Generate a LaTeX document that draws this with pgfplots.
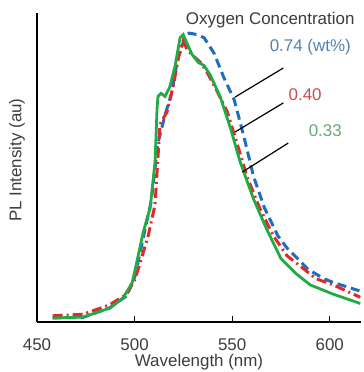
\documentclass[border=0pt]{standalone}
\usepackage{fontspec}
\setmainfont{Liberation Sans}
\usepackage{pgfplots}
\pgfplotsset{compat=1.18}
\definecolor{cgreen}{RGB}{34,170,70}
\definecolor{cred}{RGB}{228,40,40}
\definecolor{cblue}{RGB}{30,110,190}
\definecolor{tblue}{RGB}{80,130,175}
\definecolor{tred}{RGB}{205,75,75}
\definecolor{tgreen}{RGB}{100,170,120}
\definecolor{tgray}{RGB}{60,60,60}
\begin{document}
\begin{tikzpicture}
\begin{axis}[
  scale only axis, width=324bp, height=309bp,
  xmin=450, xmax=616, ymin=0, ymax=1,
  axis x line=bottom, axis y line=left,
  axis line style={-, line width=2bp, black},
  xtick={450,500,550,600}, ytick=\empty,
  tick align=inside, major tick length=6bp,
  tick style={line width=1pt, black},
  /pgf/number format/assume math mode=true,
  /pgf/number format/1000 sep={},
  ticklabel style={font=\fontsize{17}{17}\selectfont, text=tgray},
  xticklabel style={anchor=center, yshift=-23bp},
  xlabel={Wavelength (nm)}, ylabel={PL Intensity (au)},
  label style={font=\fontsize{17}{17}\selectfont, text=tgray},
  xlabel style={at={(axis description cs:0.5,0)}, anchor=center, yshift=-40bp},
  ylabel style={at={(axis description cs:0,0.524)}, anchor=center, yshift=20bp},
  clip=false,
]
\coordinate (bl) at (rel axis cs:0,0);
% blue 0.74
\addplot[cblue, line width=3bp, dash pattern=on 9bp off 5bp] coordinates {
(458,0.013)(473.6,0.015)(487,0.045)(496,0.085)(500.3,0.15)(505,0.29)(508.5,0.39)(512,0.58)(515.6,0.67)(519,0.74)(522,0.85)(526,0.925)(528,0.935)(532,0.93)(535.6,0.92)(540.7,0.87)(545.8,0.79)(551,0.72)(556,0.60)(561,0.47)(566.5,0.37)(573.3,0.28)(578,0.24)(589,0.17)(597,0.14)(601.8,0.128)(615.6,0.10)};
% red 0.40
\addplot[cred, line width=3bp, dash pattern=on 10bp off 4bp on 2bp off 4bp] coordinates {
(458,0.02)(473.6,0.025)(487,0.055)(496,0.09)(500.3,0.14)(503.7,0.21)(507,0.28)(510.5,0.38)(513,0.64)(516.6,0.68)(520,0.77)(522.6,0.86)(524.9,0.91)(527,0.88)(530.3,0.86)(533.8,0.84)(537,0.81)(542,0.75)(547.5,0.68)(552.4,0.58)(557.6,0.47)(564,0.37)(571,0.28)(578,0.215)(585,0.18)(593,0.14)(601.8,0.12)(615.6,0.08)};
% green 0.33
\addplot[cgreen, line width=2.8bp] coordinates {
(458,0.013)(473.6,0.016)(487.4,0.045)(494,0.077)(498.7,0.126)(501,0.19)(504.4,0.29)(508,0.37)(510.5,0.52)(511.5,0.69)(512,0.73)(513.6,0.74)(515.6,0.73)(518,0.76)(520.8,0.83)(523.3,0.92)(524.9,0.93)(527,0.90)(529.5,0.865)(532.6,0.84)(535.6,0.83)(538.7,0.80)(543.8,0.73)(549,0.63)(554,0.52)(560.8,0.40)(567.7,0.30)(575,0.205)(583,0.155)(590,0.12)(601.8,0.09)(615.6,0.06)};
\draw[black, line width=1.2pt] (axis cs:551.5,0.728) -- (axis cs:576.2,0.822);
\draw[black, line width=1.2pt] (axis cs:551.5,0.615) -- (axis cs:576.2,0.709);
\draw[black, line width=1.2pt] (axis cs:555.1,0.485) -- (axis cs:578.7,0.579);
\node[font=\fontsize{17}{17}\selectfont, text=tgray] at (axis cs:569.5,0.977) {Oxygen Concentration};
\node[font=\fontsize{17}{17}\selectfont, text=tblue] at (axis cs:590,0.89) {0.74 (wt\%)};
\node[font=\fontsize{17}{17}\selectfont, text=tred] at (axis cs:587.4,0.735) {0.40};
\node[font=\fontsize{17}{17}\selectfont, text=tgreen] at (axis cs:597.7,0.62) {0.33};
\end{axis}
\pgfresetboundingbox
\path (bl) ++(-37bp,-50bp) rectangle ++(364bp,372bp);
\end{tikzpicture}
\end{document}
